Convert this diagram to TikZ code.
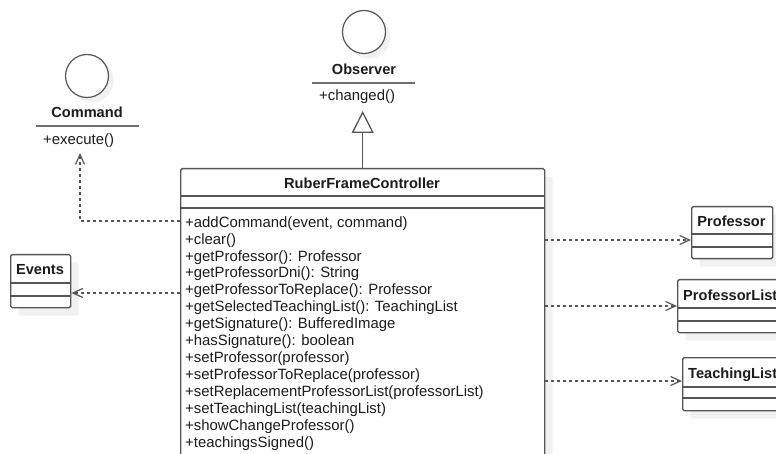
\documentclass[tikz,border=0pt]{standalone}
\usepackage{fontspec}
\setmainfont{Liberation Sans}
\usetikzlibrary{arrows.meta,shadows,calc}

\definecolor{umlline}{HTML}{555555}
\definecolor{umlrule}{HTML}{6E6E6E}
\definecolor{umlshadow}{HTML}{F1F1F1}
\definecolor{umltext}{HTML}{1C1C1C}

\begin{document}
\begin{tikzpicture}[x=1pt,y=-1pt,
  classbox/.style={draw=umlline, line width=1.4pt, rounded corners=1.5pt,
    fill=white, inner sep=0pt, anchor=north west,
    drop shadow={shadow xshift=8pt, shadow yshift=-8pt, fill=umlshadow, opacity=1}},
  ifacecircle/.style={circle, draw=umlline, line width=1.2pt, fill=white,
    minimum size=43pt, inner sep=0pt,
    drop shadow={shadow xshift=5pt, shadow yshift=-5pt, fill=umlshadow, opacity=1}},
  sepline/.style={draw=umlline, line width=1.3pt},
  ifacerule/.style={draw=umlrule, line width=2.2pt},
  titletext/.style={font=\fontsize{14.6}{16.9}\selectfont\bfseries, text=umltext,
    inner sep=0pt, anchor=base},
  optext/.style={font=\fontsize{14.9}{16.9}\selectfont, text=umltext,
    inner sep=0pt, anchor=base west},
  dep/.style={draw=umlline, line width=1.2pt, dash pattern=on 3pt off 3pt,
    -{Straight Barb[length=10pt,width=9pt,line width=1.2pt]}},
  realize/.style={draw=umlline, line width=1.4pt,
    -{Triangle[open,length=22pt,width=22pt,line width=1.3pt]}},
]
\clip (0,0) rectangle (776,454);
\fill[white] (0,0) rectangle (776,454);

% ---------- interface Observer ----------
\node[ifacecircle] (obsC) at (364,32) {};
\node[titletext] (obsName) at (364,75) {Observer};
\draw[ifacerule] (312,83) coordinate (obsRuleL) -- (415,83) coordinate (obsRuleR);
\node[optext] (obsOps) at (319,101) {+changed()};
\coordinate (obsTip) at (363,111);

% ---------- interface Command ----------
\node[ifacecircle] (cmdC) at (87,76) {};
\node[titletext] (cmdName) at (87,118) {Command};
\draw[ifacerule] (36,126) coordinate (cmdRuleL) -- (139,126) coordinate (cmdRuleR);
\node[optext] (cmdOps) at (43,145) {+execute()};
\coordinate (cmdTip) at (80,153);

% ---------- class RuberFrameController ----------
\node[classbox, minimum width=364pt, minimum height=320pt] (ctrl) at (180,168) {};
\draw[sepline] ($(ctrl.north west)+(0,28)$) -- ($(ctrl.north east)+(0,28)$);
\draw[sepline] ($(ctrl.north west)+(0,40)$) -- ($(ctrl.north east)+(0,40)$);
\node[titletext] (ctrlName) at (362,189) {RuberFrameController};
\foreach \m [count=\i from 0] in {
  {+addCommand(event, command)},
  {+clear()},
  {+getProfessor(): Professor},
  {+getProfessorDni(): String},
  {+getProfessorToReplace(): Professor},
  {+getSelectedTeachingList(): TeachingList},
  {+getSignature(): BufferedImage},
  {+hasSignature(): boolean},
  {+setProfessor(professor)},
  {+setProfessorToReplace(professor)},
  {+setReplacementProfessorList(professorList)},
  {+setTeachingList(teachingList)},
  {+showChangeProfessor()},
  {+teachingsSigned()}}
  \node[optext] (op\i) at (185,{227.3+16.9*\i}) {\m};
\coordinate (cmdOut) at ($(ctrl.north west)+(0,53)$);

% ---------- class Events ----------
\node[classbox, minimum width=60pt, minimum height=53pt] (ev) at (10,254) {};
\draw[sepline] ($(ev.north west)+(0,29)$) -- ($(ev.north east)+(0,29)$);
\draw[sepline] ($(ev.north west)+(0,42)$) -- ($(ev.north east)+(0,42)$);
\node[titletext] (evName) at (40,275) {Events};
\coordinate (evIn) at ($(ev.north east)+(0,39)$);

% ---------- class Professor ----------
\node[classbox, minimum width=81pt, minimum height=52pt] (prof) at (691,206) {};
\draw[sepline] ($(prof.north west)+(0,28)$) -- ($(prof.north east)+(0,28)$);
\draw[sepline] ($(prof.north west)+(0,41)$) -- ($(prof.north east)+(0,41)$);
\node[titletext] (profName) at (731.5,227) {Professor};
\coordinate (profIn) at ($(prof.north west)+(0,34)$);

% ---------- class ProfessorList ----------
\node[classbox, minimum width=106pt, minimum height=53pt] (plist) at (677,279) {};
\draw[sepline] ($(plist.north west)+(0,29)$) -- ($(plist.north east)+(0,29)$);
\draw[sepline] ($(plist.north west)+(0,42)$) -- ($(plist.north east)+(0,42)$);
\node[titletext, anchor=base west] (plistName) at (683,300) {ProfessorList};
\coordinate (plistIn) at ($(plist.north west)+(0,27)$);

% ---------- class TeachingList ----------
\node[classbox, minimum width=101pt, minimum height=53pt] (tlist) at (682,357) {};
\draw[sepline] ($(tlist.north west)+(0,30)$) -- ($(tlist.north east)+(0,30)$);
\draw[sepline] ($(tlist.north west)+(0,41)$) -- ($(tlist.north east)+(0,41)$);
\node[titletext, anchor=base west] (tlistName) at (688,378) {TeachingList};
\coordinate (tlistIn) at ($(tlist.north west)+(0,24)$);

% ---------- relations ----------
\draw[realize] (ctrl.north) -- (ctrl.north |- obsTip);
\draw[dep] (cmdOut) -| (cmdTip);
\draw[dep] (ctrl.west |- evIn) -- (evIn);
\draw[dep] (ctrl.east |- profIn) -- (profIn);
\draw[dep] (ctrl.east |- plistIn) -- (plistIn);
\draw[dep] (ctrl.east |- tlistIn) -- (tlistIn);
\end{tikzpicture}
\end{document}
